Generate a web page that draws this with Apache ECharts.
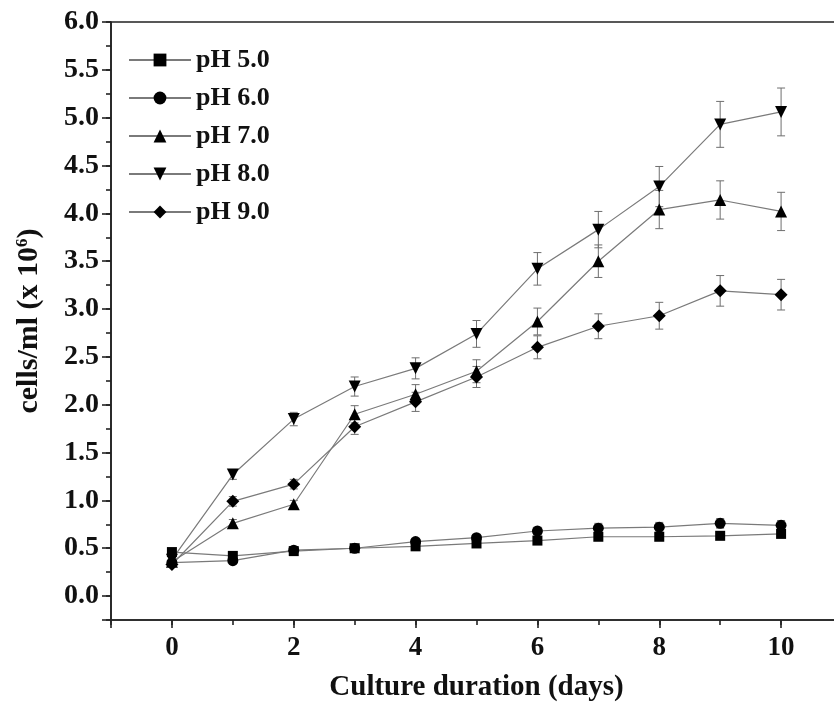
<!DOCTYPE html>
<html>
<head>
<meta charset="utf-8">
<script src="https://cdn.jsdelivr.net/npm/echarts@6/dist/echarts.min.js"></script>
<style>
  html, body { margin: 0; padding: 0; background: #fff; }
  #chart { width: 834px; height: 708px; }
</style>
</head>
<body>
<div id="chart"></div>
<script>
// Culture days on the x axis
const days = [0, 1, 2, 3, 4, 5, 6, 7, 8, 9, 10];
const seriesNames = ['pH 5.0', 'pH 6.0', 'pH 7.0', 'pH 8.0', 'pH 9.0'];

// Mean cell density (x 10^6 cells/ml)
const ph5 = [0.46, 0.42, 0.47, 0.50, 0.52, 0.55, 0.58, 0.62, 0.62, 0.63, 0.65];
const ph6 = [0.35, 0.37, 0.48, 0.50, 0.57, 0.61, 0.68, 0.71, 0.72, 0.76, 0.74];
const ph7 = [0.36, 0.76, 0.96, 1.90, 2.11, 2.35, 2.87, 3.50, 4.04, 4.14, 4.02];
const ph8 = [0.38, 1.27, 1.85, 2.19, 2.38, 2.74, 3.42, 3.83, 4.28, 4.93, 5.06];
const ph9 = [0.33, 0.99, 1.17, 1.77, 2.03, 2.29, 2.60, 2.82, 2.93, 3.19, 3.15];

// Standard deviations
const ph5Err = [0.02, 0.02, 0.02, 0.02, 0.03, 0.03, 0.03, 0.03, 0.04, 0.04, 0.04];
const ph6Err = [0.02, 0.02, 0.02, 0.02, 0.03, 0.03, 0.04, 0.05, 0.05, 0.05, 0.05];
const ph7Err = [0.02, 0.04, 0.04, 0.09, 0.10, 0.12, 0.14, 0.17, 0.20, 0.20, 0.20];
const ph8Err = [0.02, 0.05, 0.07, 0.10, 0.11, 0.14, 0.17, 0.19, 0.21, 0.24, 0.25];
const ph9Err = [0.02, 0.05, 0.05, 0.08, 0.10, 0.11, 0.12, 0.13, 0.14, 0.16, 0.16];

// Tick labels
const yTickLabels = ['0.0', '0.5', '1.0', '1.5', '2.0', '2.5', '3.0', '3.5', '4.0', '4.5', '5.0', '5.5', '6.0'];
const xTickLabels = ['0', '2', '4', '6', '8', '10'];

const FONT = '"Liberation Serif", "Times New Roman", serif';
const INK = '#111';
const LINE_GRAY = '#7a7a7a';

const means = [ph5, ph6, ph7, ph8, ph9];
const errs = [ph5Err, ph6Err, ph7Err, ph8Err, ph9Err];
const symbols = ['rect', 'circle', 'triangle', 'triangle', 'diamond'];
const symbolSizes = [10, 11, 12, 12, 13];
const symbolRotates = [0, 0, 0, 180, 0];

function errorBarSeries(values, sd) {
  return {
    type: 'custom',
    xAxisIndex: 0,
    yAxisIndex: 0,
    silent: true,
    z: 1,
    data: days.map((d, i) => [d, values[i] - sd[i], values[i] + sd[i]]),
    renderItem(params, api) {
      const x = api.value(0);
      const lo = api.coord([x, api.value(1)]);
      const hi = api.coord([x, api.value(2)]);
      const w = 4;
      const style = { stroke: '#6e6e6e', lineWidth: 1 };
      return {
        type: 'group',
        children: [
          { type: 'line', shape: { x1: lo[0], y1: lo[1], x2: hi[0], y2: hi[1] }, style },
          { type: 'line', shape: { x1: hi[0] - w, y1: hi[1], x2: hi[0] + w, y2: hi[1] }, style },
          { type: 'line', shape: { x1: lo[0] - w, y1: lo[1], x2: lo[0] + w, y2: lo[1] }, style }
        ]
      };
    }
  };
}

const lineSeries = seriesNames.map((name, k) => ({
  name,
  type: 'line',
  xAxisIndex: 0,
  yAxisIndex: 0,
  z: 3,
  data: days.map((d, i) => [d, means[k][i]]),
  symbol: symbols[k],
  symbolSize: symbolSizes[k],
  symbolRotate: symbolRotates[k],
  showAllSymbol: true,
  itemStyle: { color: '#000' },
  lineStyle: { color: LINE_GRAY, width: 1.2 },
  emphasis: { disabled: true },
  animation: false
}));

const chart = echarts.init(document.getElementById('chart'), null, { renderer: 'canvas' });

const axisLineStyle = { color: '#222', width: 1.6 };
const tickLine = { color: '#222', width: 1.6 };

chart.setOption({
  animation: false,
  backgroundColor: '#fff',
  grid: {
    left: 111, top: 22, right: -8, bottom: 88,
    outerBoundsMode: 'none',
    containLabel: false,
    show: true, borderColor: '#222', borderWidth: 1.6, backgroundColor: 'transparent'
  },
  legend: {
    data: seriesNames,
    orient: 'vertical',
    left: 128,
    top: 47,
    padding: 0,
    itemWidth: 62,
    itemHeight: 16,
    itemGap: 12,
    selectedMode: false,
    textStyle: { fontFamily: FONT, fontWeight: 'bold', fontSize: 26, color: INK }
  },
  xAxis: [
    {
      // fine ticks every day
      type: 'value', min: -1, max: 11, interval: 1,
      position: 'bottom',
      axisLine: { show: true, onZero: false, lineStyle: axisLineStyle },
      axisTick: { show: true, inside: false, length: 5, lineStyle: tickLine },
      axisLabel: { show: false },
      splitLine: { show: false },
      name: 'Culture duration (days)',
      nameLocation: 'middle',
      nameGap: 53,
      nameTextStyle: { fontFamily: FONT, fontWeight: 'bold', fontSize: 29, color: INK }
    },
    {
      // labelled ticks every two days
      type: 'value', min: -1, max: 11, splitNumber: 6,
      position: 'bottom',
      axisLine: { show: false, onZero: false },
      axisTick: { show: true, inside: false, length: 8, lineStyle: tickLine },
      axisLabel: {
        show: true, margin: 15,
        fontFamily: FONT, fontWeight: 'bold', fontSize: 27, color: INK,
        formatter: v => (v >= 0 && v <= 10 && Math.abs(v % 2) < 1e-9) ? xTickLabels[Math.round(v / 2)] : ''
      },
      splitLine: { show: false }
    }
  ],
  yAxis: [
    {
      type: 'value', min: -0.25, max: 6, interval: 0.25,
      position: 'left',
      axisLine: { show: true, onZero: false, lineStyle: axisLineStyle },
      axisTick: { show: true, inside: false, length: 5, lineStyle: tickLine },
      axisLabel: { show: false },
      splitLine: { show: false },
      name: 'cells/ml (x 10{sup|6})',
      nameLocation: 'middle',
      nameGap: 66,
      nameRotate: 90,
      nameTextStyle: {
        fontFamily: FONT, fontWeight: 'bold', fontSize: 30, color: INK,
        rich: {
          sup: { fontFamily: FONT, fontWeight: 'bold', fontSize: 17, color: INK, verticalAlign: 'top', padding: [0, 0, 14, 0] }
        }
      }
    },
    {
      type: 'value', min: -0.25, max: 6, splitNumber: 12,
      position: 'left',
      axisLine: { show: false, onZero: false },
      axisTick: { show: true, inside: false, length: 9, lineStyle: tickLine },
      axisLabel: {
        show: true, margin: 12,
        fontFamily: FONT, fontWeight: 'bold', fontSize: 28, color: INK,
        formatter: v => {
          const k = Math.round(v * 2);
          return (v >= 0 && Math.abs(v * 2 - k) < 1e-9) ? yTickLabels[k] : '';
        }
      },
      splitLine: { show: false }
    }
  ],
  series: [
    ...seriesNames.map((n, k) => errorBarSeries(means[k], errs[k])),
    ...lineSeries
  ]
});
</script>
</body>
</html>
